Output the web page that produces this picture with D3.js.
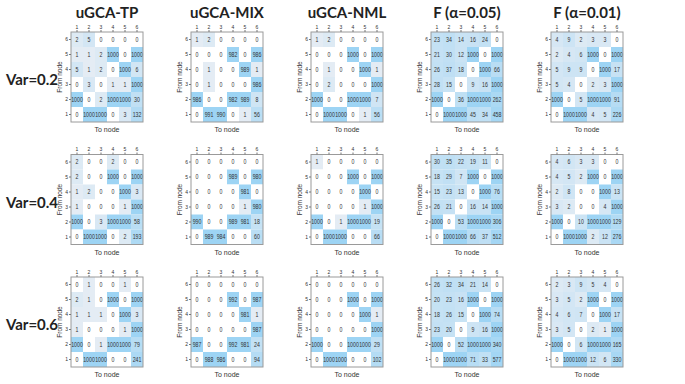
<!DOCTYPE html>
<html>
<head>
<meta charset="utf-8">
<script src="https://cdn.jsdelivr.net/npm/d3@7"></script>
<style>
  body { margin: 0; background: #fff; }
  svg { display: block; }
</style>
</head>
<body>
<div id="chart"></div>
<script>

const methods = ["uGCA-TP", "uGCA-MIX", "uGCA-NML", "F (α=0.05)", "F (α=0.01)"];
const variances = ["Var=0.2", "Var=0.4", "Var=0.6"];
const toNodes = [1, 2, 3, 4, 5, 6];
const fromNodes = [6, 5, 4, 3, 2, 1];   // rows, top to bottom

// each matrix: rows = from node 6..1, columns = to node 1..6
const tp02 = [[2,5,0,0,0,0],[1,1,2,1000,0,1000],[5,1,2,0,1000,6],[0,3,0,1,1,1000],[1000,0,2,1000,1000,30],[0,1000,1000,0,3,132]];
const mix02 = [[1,2,0,0,0,0],[0,0,0,982,0,986],[0,1,0,0,989,1],[0,1,0,0,0,986],[986,0,0,982,989,8],[0,991,990,0,1,56]];
const nml02 = [[1,2,0,0,0,0],[0,0,0,1000,0,1000],[0,1,0,0,1000,1],[0,2,0,0,0,1000],[1000,0,0,1000,1000,7],[0,1000,1000,0,1,56]];
const f05_02 = [[23,34,14,16,24,0],[21,30,12,1000,0,1000],[26,37,18,0,1000,66],[28,15,0,9,16,1000],[1000,0,36,1000,1000,262],[0,1000,1000,45,34,458]];
const f01_02 = [[4,9,2,3,3,0],[2,4,6,1000,0,1000],[5,9,9,0,1000,17],[5,4,0,2,3,1000],[1000,0,5,1000,1000,91],[0,1000,1000,4,5,226]];

const tp04 = [[2,0,0,2,0,0],[2,0,0,1000,0,1000],[1,2,0,0,1000,3],[1,0,0,0,1,1000],[1000,0,3,1000,1000,58],[0,1000,1000,0,2,193]];
const mix04 = [[0,0,0,0,0,0],[0,0,0,989,0,980],[0,0,0,0,981,0],[0,0,0,0,1,980],[990,0,0,989,981,18],[0,989,984,0,0,60]];
const nml04 = [[1,0,0,0,0,0],[0,0,0,1000,0,1000],[0,0,0,0,1000,0],[0,0,0,0,1,1000],[1000,0,1,1000,1000,19],[0,1000,1000,0,0,66]];
const f05_04 = [[30,35,22,19,11,0],[18,29,7,1000,0,1000],[15,23,13,0,1000,76],[26,21,0,16,14,1000],[1000,0,53,1000,1000,306],[0,1000,1000,66,37,512]];
const f01_04 = [[4,6,3,3,0,0],[4,5,2,1000,0,1000],[2,8,0,0,1000,13],[3,2,0,0,4,1000],[1000,0,10,1000,1000,129],[0,1000,1000,2,12,276]];

const tp06 = [[0,1,0,0,1,0],[2,1,0,1000,0,1000],[1,1,1,0,1000,3],[1,0,0,0,1,1000],[1000,0,1,1000,1000,79],[0,1000,1000,0,0,241]];
const mix06 = [[0,0,0,0,0,0],[0,0,0,992,0,987],[0,0,0,0,981,1],[0,0,0,0,0,987],[987,0,0,992,981,24],[0,988,986,0,0,94]];
const nml06 = [[0,0,0,0,0,0],[0,0,0,1000,0,1000],[0,0,0,0,1000,1],[0,0,0,0,0,1000],[1000,0,0,1000,1000,29],[0,1000,1000,0,0,102]];
const f05_06 = [[26,32,34,21,14,0],[20,23,16,1000,0,1000],[18,26,15,0,1000,74],[23,20,0,9,16,1000],[1000,0,52,1000,1000,340],[0,1000,1000,71,33,577]];
const f01_06 = [[2,3,9,5,4,0],[3,5,2,1000,0,1000],[4,6,7,0,1000,17],[3,5,0,2,1,1000],[1000,0,6,1000,1000,165],[0,1000,1000,12,6,330]];

const grid = [
  [tp02, mix02, nml02, f05_02, f01_02],
  [tp04, mix04, nml04, f05_04, f01_04],
  [tp06, mix06, nml06, f05_06, f01_06]
];

const width = 685, height = 384;
const pw = 72, ph = 90;

var panelX = d3.scalePoint().domain(methods).range([71, 551]);
var panelY = d3.scalePoint().domain(variances).range([32, 277]);

var x = d3.scaleBand().domain(toNodes).range([0, pw]);
var y = d3.scaleBand().domain(fromNodes).range([0, ph]);

var shade = d3.scaleLog().domain([1, 1000]).range(["#e4ecf4", "#9dd4f4"]).clamp(true);
var cellColor = function(v) {
  return v === 0 ? "#ffffff" : shade(v);
};

const svg = d3.select("#chart").append("svg")
  .attr("width", width)
  .attr("height", height)
  .style("font-family", "'Liberation Sans', Arial, sans-serif");

// column titles
svg.selectAll(".title")
  .data(methods)
  .enter().append("text")
  .attr("class", "title")
  .attr("x", d => panelX(d) + pw / 2)
  .attr("y", 18)
  .attr("text-anchor", "middle")
  .attr("font-family", "Lato, 'Open Sans', sans-serif")
  .attr("font-size", 15)
  .attr("font-weight", "bold")
  .attr("fill", "#222")
  .text(d => d);

// row labels
svg.selectAll(".rowlabel")
  .data(variances)
  .enter().append("text")
  .attr("class", "rowlabel")
  .attr("x", 32)
  .attr("y", d => panelY(d) + ph / 2 + 8)
  .attr("text-anchor", "middle")
  .attr("font-family", "Lato, 'Open Sans', sans-serif")
  .attr("font-size", 15)
  .attr("font-weight", "bold")
  .attr("fill", "#222")
  .text(d => d);

variances.forEach(function(vr, i) {
  methods.forEach(function(m, j) {
    const mat = grid[i][j];
    const cells = [];
    mat.forEach(function(row, r) {
      row.forEach(function(v, c) {
        cells.push({ from: fromNodes[r], to: toNodes[c], value: v });
      });
    });

    const g = svg.append("g")
      .attr("transform", "translate(" + panelX(m) + "," + panelY(vr) + ")");

    g.selectAll(".cell")
      .data(cells)
      .enter().append("rect")
      .attr("class", "cell")
      .attr("x", d => x(d.to))
      .attr("y", d => y(d.from))
      .attr("width", x.bandwidth())
      .attr("height", y.bandwidth())
      .attr("fill", d => cellColor(d.value));

    // narrow the digits a little, like the condensed font of the original
    g.selectAll(".val")
      .data(cells)
      .enter().append("text")
      .attr("class", "val")
      .attr("transform", d => "translate(" + (x(d.to) + x.bandwidth() / 2) + "," +
                               (y(d.from) + y.bandwidth() / 2) + ") scale(0.82,1)")
      .attr("dy", "0.35em")
      .attr("text-anchor", "middle")
      .attr("font-size", 6.4)
      .attr("fill", "#333")
      .text(d => d.value);

    g.append("rect")
      .attr("width", pw)
      .attr("height", ph)
      .attr("fill", "none")
      .attr("stroke", "#9a9a9a")
      .attr("stroke-width", 1);

    // top axis
    var xAxis = g.append("g")
      .call(d3.axisTop(x).tickSize(2).tickPadding(1.5));
    xAxis.select(".domain").remove();
    xAxis.selectAll("text").attr("font-size", 5).attr("fill", "#333");
    xAxis.selectAll("line").attr("stroke", "#777");

    var yAxis = g.append("g")
      .call(d3.axisLeft(y).tickSize(2).tickPadding(1));
    yAxis.select(".domain").remove();
    yAxis.selectAll("text").attr("font-size", 5).attr("fill", "#333");
    yAxis.selectAll("line").attr("stroke", "#777");

    g.append("text")
      .attr("transform", "translate(-9.5," + ph / 2 + ") rotate(-90)")
      .attr("text-anchor", "middle")
      .attr("font-size", 6.5)
      .attr("fill", "#333")
      .text("From node");

    g.append("text")
      .attr("x", pw / 2)
      .attr("y", ph + 10)
      .attr("text-anchor", "middle")
      .attr("font-size", 7)
      .attr("fill", "#333")
      .text("To node");
  });
});

</script>
</body>
</html>
